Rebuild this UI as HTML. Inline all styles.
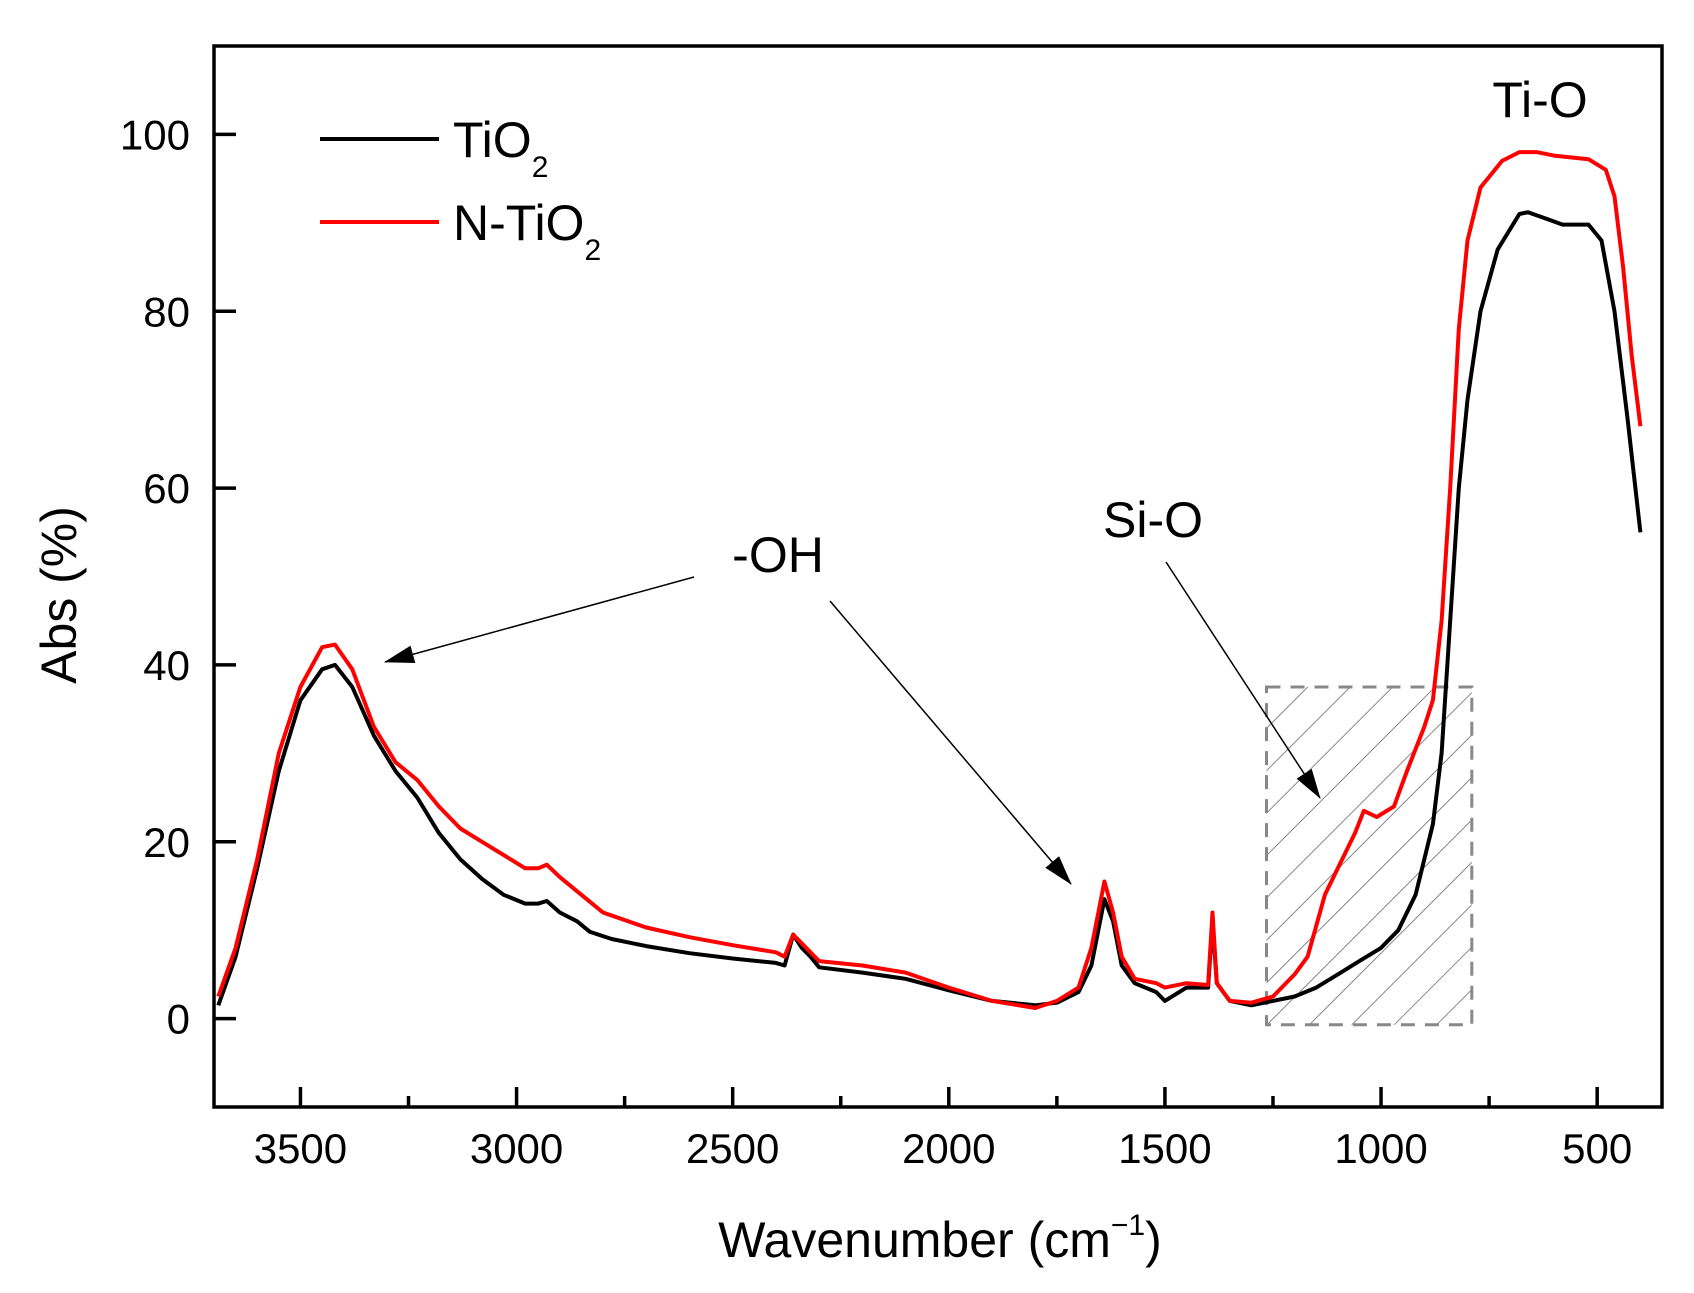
<!DOCTYPE html>
<html><head><meta charset="utf-8"><style>
html,body{margin:0;padding:0;background:#fff;}
svg{display:block;font-family:"Liberation Sans",Arial,sans-serif;}
</style></head><body>
<svg id="chart" width="1694" height="1293" viewBox="0 0 1694 1293" xmlns="http://www.w3.org/2000/svg">
<defs>
<pattern id="hatch" patternUnits="userSpaceOnUse" width="30" height="30" patternTransform="rotate(45)">
<line x1="0" y1="0" x2="0" y2="30" stroke="#888" stroke-width="2"/>
</pattern>
<marker id="arrB" markerWidth="30" markerHeight="18" refX="29" refY="9" orient="auto" markerUnits="userSpaceOnUse">
<path d="M0,0 L30,9 L0,18 Z" fill="#000"/>
</marker>
</defs>
<g id="plot"></g>
</svg>
<script>
const wavenumbersTiO2 = [3690,3650,3600,3550,3500,3450,3420,3380,3330,3280,3230,3180,3130,3080,3030,2980,2950,2930,2900,2860,2830,2780,2700,2600,2500,2400,2380,2360,2340,2320,2300,2200,2100,2000,1900,1800,1750,1700,1670,1650,1640,1620,1600,1570,1520,1500,1450,1400,1390,1380,1350,1300,1250,1200,1150,1100,1050,1000,960,920,880,860,840,820,800,770,730,680,660,620,580,520,490,460,430,400];
const valuesTiO2 = [1.5,7,17,28,36,39.5,40,37.5,32,28,25,21,18,15.8,14,13,13,13.3,12,11,9.8,9,8.2,7.4,6.8,6.3,6,9.5,8,7,5.8,5.2,4.5,3.2,2,1.5,1.8,3,6,11,13.5,11,6,4,3,2,3.5,3.5,11,4,2,1.5,2,2.5,3.5,5,6.5,8,10,14,22,30,45,60,70,80,87,91,91.2,90.5,89.8,89.8,88,80,68,55];
const wavenumbersNTiO2 = [3690,3650,3600,3550,3500,3450,3420,3380,3330,3280,3230,3180,3130,3080,3030,2980,2950,2930,2900,2850,2800,2700,2600,2500,2400,2380,2360,2340,2300,2200,2100,2000,1900,1800,1750,1700,1670,1650,1640,1620,1600,1570,1520,1500,1450,1400,1390,1380,1350,1300,1250,1200,1170,1130,1100,1060,1040,1010,970,940,900,880,860,840,820,800,770,720,680,640,600,520,480,460,440,420,400];
const valuesNTiO2 = [2.5,8,18,30,37.5,42,42.3,39.5,33,29,27,24,21.5,20,18.5,17,17,17.4,16,14,12,10.3,9.2,8.3,7.5,7,9.5,8.5,6.5,6,5.2,3.5,2,1.2,2,3.5,8,13,15.5,12,7,4.5,4,3.5,4,3.8,12,4,2,1.8,2.5,5,7,14,17,21,23.5,22.8,24,28,33,36,45,60,78,88,94,97,98,98,97.6,97.2,96,93,85,75,67];
const xTicks = [3500,3000,2500,2000,1500,1000,500];
const xMinorTicks = [3250,2750,2250,1750,1250,750];
const yTicks = [0,20,40,60,80,100];

const L=214,R=1662,T=46,B=1107;
const X0=3700,X1=350,Y0=-10,Y1=110;
function sx(v){return L+(X0-v)/(X0-X1)*(R-L);}
function sy(v){return B-(v-Y0)/(Y1-Y0)*(B-T);}
const NS="http://www.w3.org/2000/svg";
const g=document.getElementById('plot');
function mk(tag,attrs,parent){const e=document.createElementNS(NS,tag);for(const k in attrs)e.setAttribute(k,attrs[k]);(parent||g).appendChild(e);return e;}

const hr=mk('rect',{x:sx(1265),y:sy(37.5),width:sx(790)-sx(1265),height:sy(-0.7)-sy(37.5),fill:'url(#hatch)',stroke:'#888','stroke-width':3,'stroke-dasharray':'14,10'});



function series(xs,ys,color,name){
  const d=xs.map((x,i)=>(i?'L':'M')+sx(x).toFixed(1)+','+sy(ys[i]).toFixed(1)).join(' ');
  const p=mk('path',{d:d,fill:'none',stroke:color,'stroke-width':4,'stroke-linejoin':'round'});
  
  
}
series(wavenumbersTiO2,valuesTiO2,'#000','tio2-line');
series(wavenumbersNTiO2,valuesNTiO2,'#ff0000','n-tio2-line');

const fr=mk('rect',{x:L,y:T,width:R-L,height:B-T,fill:'none',stroke:'#000','stroke-width':3.5});



xTicks.forEach(v=>{
  const t=mk('line',{x1:sx(v),x2:sx(v),y1:B,y2:B-20,stroke:'#000','stroke-width':3.5});
  
  
  const tx=mk('text',{x:sx(v),y:1163,'font-size':42,'text-anchor':'middle'});
  tx.textContent=v;
  
  
});
xMinorTicks.forEach(v=>{
  const t=mk('line',{x1:sx(v),x2:sx(v),y1:B,y2:B-11,stroke:'#000','stroke-width':3.5});
  
  
});
yTicks.forEach(v=>{
  const t=mk('line',{x1:L,x2:L+22,y1:sy(v),y2:sy(v),stroke:'#000','stroke-width':3.5});
  
  
  const tx=mk('text',{x:190,y:sy(v)+15,'font-size':42,'text-anchor':'end'});
  tx.textContent=v;
  
  
});

function arrow(x1,y1,x2,y2,name){
  const a=mk('line',{x1:x1,y1:y1,x2:x2,y2:y2,stroke:'#000','stroke-width':1.5,'marker-end':'url(#arrB)'});
  
  
}
arrow(694,577,385,662,'oh-arrow-1');
arrow(830,601,1071,884,'oh-arrow-2');
arrow(1166,562,1320,798,'si-o-arrow');
</script>
<svg style="position:absolute;left:0;top:0" width="1694" height="1293" xmlns="http://www.w3.org/2000/svg">
<g font-family="Liberation Sans, Arial, sans-serif" fill="#000">
<line x1="320" y1="139" x2="439" y2="139" stroke="#000" stroke-width="4"/>
<text x="453" y="157" font-size="50">TiO<tspan font-size="30" dy="20">2</tspan></text>
<line x1="320" y1="222" x2="439" y2="222" stroke="#ff0000" stroke-width="4"/>
<text x="453" y="240" font-size="50">N-TiO<tspan font-size="30" dy="20">2</tspan></text>
<text x="1540" y="117" font-size="50" text-anchor="middle">Ti-O</text>
<text x="778" y="572" font-size="50" text-anchor="middle">-OH</text>
<text x="1153" y="537" font-size="50" text-anchor="middle">Si-O</text>
<text x="940" y="1257" font-size="50" text-anchor="middle">Wavenumber (cm<tspan font-size="30" dy="-22">−1</tspan><tspan dy="22">)</tspan></text>
<text transform="translate(76,595) rotate(-90)" font-size="50" text-anchor="middle">Abs (%)</text>
</g>
</svg>
</body></html>
